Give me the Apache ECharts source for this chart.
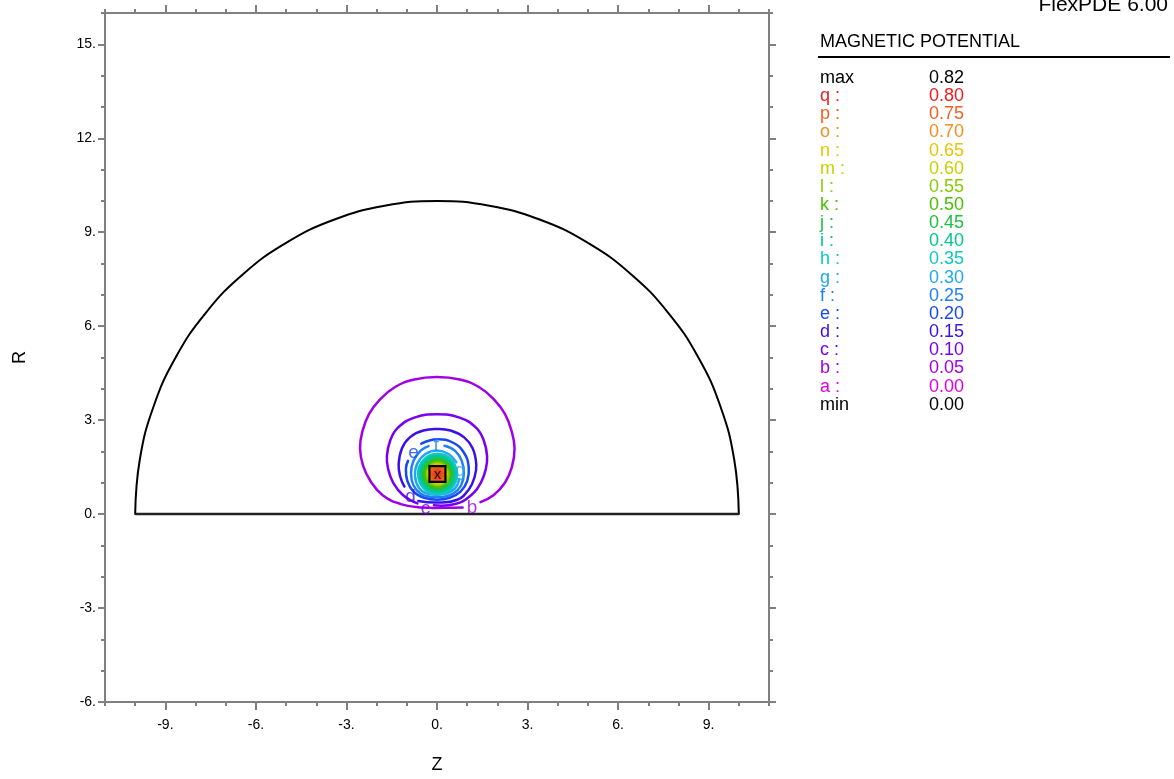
<!DOCTYPE html>
<html>
<head>
<meta charset="utf-8">
<script src="https://cdn.jsdelivr.net/npm/echarts@6/dist/echarts.min.js"></script>
<style>html,body{margin:0;padding:0;background:#fff}#c{width:1174px;height:779px}</style>
</head>
<body>
<div id="c"></div>
<script>
// ---- tick labels ----
const zTicks = [-9, -6, -3, 0, 3, 6, 9];
const rTicks = [-6, -3, 0, 3, 6, 9, 12, 15];

// ---- legend (contour levels) ----
const levelNames  = ['max','q :','p :','o :','n :','m :','l :','k :','j :','i :','h :','g :','f :','e :','d :','c :','b :','a :','min'];
const levelValues = ['0.82','0.80','0.75','0.70','0.65','0.60','0.55','0.50','0.45','0.40','0.35','0.30','0.25','0.20','0.15','0.10','0.05','0.00','0.00'];
const levelColors = ['#000000','#ee1c1c','#f06020','#f0901c','#e8c400','#c8d000','#88cc00','#48c000','#20c040','#00c888','#10c8c0','#20a8f0','#2080f0','#1848f0','#3a10e8','#7800f0','#a000e8','#e000e0','#000000'];

// ---- domain boundary (semicircle radius 10 on the axis R=0) ----
const boundaryArc = [[10,0],[9.848,1.736],[9.397,3.420],[8.660,5.000],[7.660,6.428],[6.428,7.660],[5.000,8.660],[3.420,9.397],[1.736,9.848],[0,10],
  [-1.736,9.848],[-3.420,9.397],[-5.000,8.660],[-6.428,7.660],[-7.660,6.428],[-8.660,5.000],[-9.397,3.420],[-9.848,1.736],[-10,0]];
const boundaryBase = [[-10,0],[10,0]];

// ---- contour lines ([Z, R]) ----
const contourB = [[0.85,0.21],[0.3,0.2],[-0.5,0.21],[-1.2,0.32],[-1.8,0.6],[-2.2,1.05],[-2.45,1.55],[-2.55,2.1],[-2.47,2.65],[-2.25,3.2],[-1.9,3.65],[-1.4,4.05],[-0.75,4.3],[0,4.38],[0.75,4.3],[1.4,4.05],[1.9,3.65],[2.25,3.2],[2.47,2.65],[2.57,2.1],[2.48,1.5],[2.25,1.0],[1.87,0.6],[1.44,0.38]];
const contourC = [[-0.1,0.28],[0.6,0.32],[1.1,0.58],[1.45,1.0],[1.62,1.45],[1.66,1.85],[1.55,2.35],[1.3,2.75],[0.75,3.08],[0,3.19],[-0.75,3.08],[-1.3,2.75],[-1.55,2.35],[-1.66,1.85],[-1.62,1.45],[-1.45,1.0],[-1.12,0.6],[-0.65,0.34]];
const contourD = [[-0.62,0.42],[0,0.37],[0.65,0.45],[1.05,0.78],[1.25,1.2],[1.3,1.6],[1.18,2.1],[0.9,2.45],[0.45,2.67],[0,2.72],[-0.45,2.67],[-0.9,2.45],[-1.16,2.1],[-1.27,1.6],[-1.22,1.2],[-1.08,0.88]];
const contourE = [[-0.52,2.25],[0,2.39],[0.55,2.27],[0.9,1.95],[1.05,1.5],[1.0,1.05],[0.78,0.72],[0.42,0.52],[0,0.46],[-0.42,0.52],[-0.78,0.72],[-0.98,1.05],[-1.03,1.45],[-0.96,1.7]];
const contourF = [[0.25,2.18],[0.6,2.02],[0.82,1.7],[0.89,1.3],[0.8,0.92],[0.55,0.66],[0.2,0.55],[-0.2,0.55],[-0.55,0.66],[-0.78,0.92],[-0.86,1.3],[-0.78,1.7],[-0.55,2.02],[-0.28,2.17]];
const contourG = [[0.74,1.12],[0.6,0.82],[0.32,0.66],[0,0.62],[-0.35,0.66],[-0.6,0.84],[-0.73,1.22],[-0.65,1.62],[-0.38,1.92],[0,2.03],[0.38,1.92],[0.64,1.66]];
const contourH = [[0.67,1.28],[0.48,1.74],[0.02,1.93],[-0.44,1.74],[-0.63,1.28],[-0.44,0.82],[0.02,0.63],[0.48,0.82],[0.67,1.28],[0.48,1.74]];
const contourI = [[0.58,1.28],[0.42,1.68],[0.02,1.84],[-0.38,1.68],[-0.54,1.28],[-0.38,0.88],[0.02,0.72],[0.42,0.88],[0.58,1.28],[0.42,1.68]];
const contourJ = [[0.50,1.28],[0.36,1.62],[0.02,1.76],[-0.32,1.62],[-0.46,1.28],[-0.32,0.94],[0.02,0.80],[0.36,0.94],[0.50,1.28],[0.36,1.62]];
const contourK = [[0.435,1.28],[0.31,1.57],[0.02,1.695],[-0.27,1.57],[-0.395,1.28],[-0.27,0.99],[0.02,0.865],[0.31,0.99],[0.435,1.28],[0.31,1.57]];
const contourL = [[0.38,1.28],[0.27,1.53],[0.02,1.64],[-0.23,1.53],[-0.34,1.28],[-0.23,1.03],[0.02,0.92],[0.27,1.03],[0.38,1.28],[0.27,1.53]];
const contourM = [[0.33,1.28],[0.24,1.5],[0.02,1.59],[-0.2,1.5],[-0.29,1.28],[-0.2,1.06],[0.02,0.97],[0.24,1.06],[0.33,1.28],[0.24,1.5]];
const contourN = [[0.29,1.28],[0.21,1.47],[0.02,1.55],[-0.17,1.47],[-0.25,1.28],[-0.17,1.09],[0.02,1.01],[0.21,1.09],[0.29,1.28],[0.21,1.47]];

// ---- contour labels [Z, R, letter, colour index in legend] ----
const contourLabels = [[1.16,0.19,'b',16],[-0.38,0.16,'c',15],[-0.88,0.54,'d',14],[-0.78,1.96,'e',13],[-0.03,2.18,'f',12],[0.77,1.38,'g',11],[0.36,1.06,'l',6]];

// ---- coil (source region) [zMin, rMin, zMax, rMax] and maximum marker ----
const coilBox = [[-0.25,1.03,0.28,1.53]];
const maxMark = [[0.02,1.26]];

const GRAY = '#808080';
const FONT = '"Liberation Sans", Arial, sans-serif';

const chart = echarts.init(document.getElementById('c'), null, {renderer:'canvas'});

// smooth curve through the data points, positioned with the chart's own axes
function contourLine(data, color, width, z) {
  return {type:'custom', xAxisIndex:0, yAxisIndex:0, z: z, silent:true, animation:false,
    data: [data[0]],
    renderItem: (params, api) => ({type:'polyline',
      shape:{points: data.map(p => api.coord(p)), smooth: 0.45},
      style:{stroke: color, lineWidth: width, fill: null, lineJoin:'round', lineCap:'round'}})};
}
const colorOf = k => levelColors[levelNames.indexOf(k + ' :')];

const series = [
  // filled core
  {type:'custom', xAxisIndex:0, yAxisIndex:0, z:3, silent:true, animation:false,
   data:[[0.02,1.28]],
   renderItem:(params, api) => {
     const pts = contourH.slice(0, 8).map(p => api.coord(p));
     return {type:'polygon', shape:{points: pts, smooth: 0.45},
       style:{fill:{type:'radial', x:0.5, y:0.5, r:0.5, colorStops:[
         {offset:0, color:'#a8d800'},{offset:0.45, color:'#60cc20'},{offset:0.7, color:'#30c850'},{offset:0.88, color:'#10c8b0'},{offset:1, color:'#20b0e8'}]}}};
   }},
  contourLine(boundaryArc, '#000', 2, 2),
  {type:'line', data: boundaryBase, symbol:'none', lineStyle:{color:'#222', width:2.5}, z:2, silent:true, animation:false},
  contourLine(contourB, colorOf('b'), 2.5, 4),
  contourLine(contourC, colorOf('c'), 2.5, 4),
  contourLine(contourD, colorOf('d'), 2.5, 4),
  contourLine(contourE, colorOf('e'), 2.5, 4),
  contourLine(contourF, colorOf('f'), 2.5, 4),
  contourLine(contourG, colorOf('g'), 2.5, 4),
  contourLine(contourH, colorOf('h'), 2.3, 5),
  contourLine(contourI, colorOf('i'), 2.3, 5),
  contourLine(contourJ, colorOf('j'), 2.3, 5),
  contourLine(contourK, colorOf('k'), 2.3, 5),
  contourLine(contourL, colorOf('l'), 2.3, 5),
  contourLine(contourM, colorOf('m'), 2.3, 5),
  contourLine(contourN, colorOf('n'), 2.3, 5),
  // coil box
  {type:'custom', xAxisIndex:0, yAxisIndex:0, z:8, silent:true, animation:false,
   data: coilBox,
   renderItem:(params, api) => {
     const p0 = api.coord([api.value(0), api.value(1)]);
     const p1 = api.coord([api.value(2), api.value(3)]);
     return {type:'rect', shape:{x:p0[0], y:p1[1], width:p1[0]-p0[0], height:p0[1]-p1[1]},
       style:{fill:{type:'radial', x:0.5, y:0.5, r:0.6, colorStops:[{offset:0,color:'#e02818'},{offset:1,color:'#f08020'}]},
              stroke:'#000', lineWidth:2.2}};
   }},
  // max marker
  {type:'scatter', data: maxMark, symbolSize:0, z:9, silent:true, animation:false,
   label:{show:true, position:'inside', formatter:'x', color:'#000', fontSize:15, fontFamily: FONT}},
  // contour letters
  {type:'scatter', symbolSize:0, z:9, silent:true, animation:false,
   data: contourLabels.map(l => ({value:[l[0], l[1]],
     label:{show:true, position:'inside', formatter:l[2], color:levelColors[l[3]], fontSize: l[2] === 'l' ? 12 : 19, fontFamily: FONT}}))}
];

const tickLab = {fontSize:14, color:'#000', fontFamily: FONT, formatter: v => v + '.'};
const lineOff = {show:true, onZero:false, lineStyle:{color:GRAY, width:2}};

const option = {
  backgroundColor:'#fff',
  animation:false,
  textStyle:{fontFamily: FONT},
  grid:{left:105, right:405, top:13, bottom:70, containLabel:false},
  xAxis:[
    {type:'value', position:'bottom', min:-11, max:11,
     axisLine: lineOff,
     axisTick:{show:true, customValues: zTicks, length:8, lineStyle:{color:GRAY, width:2}},
     axisLabel:Object.assign({show:true, customValues: zTicks, margin:16}, tickLab),
     splitLine:{show:false},
     name:'Z', nameLocation:'middle', nameGap:54, nameTextStyle:{fontSize:18, color:'#000', fontFamily: FONT}},
    {type:'value', position:'bottom', min:-11, max:11, interval:1,
     axisLine:{show:false, onZero:false}, axisTick:{show:true, length:4, lineStyle:{color:GRAY, width:2}},
     axisLabel:{show:false}, splitLine:{show:false}},
    {type:'value', position:'top', min:-11, max:11,
     axisLine: lineOff,
     axisTick:{show:true, customValues: zTicks, length:8, lineStyle:{color:GRAY, width:2}},
     axisLabel:{show:false}, splitLine:{show:false}},
    {type:'value', position:'top', min:-11, max:11, interval:1,
     axisLine:{show:false, onZero:false}, axisTick:{show:true, length:4, lineStyle:{color:GRAY, width:2}},
     axisLabel:{show:false}, splitLine:{show:false}}
  ],
  yAxis:[
    {type:'value', position:'left', min:-6, max:16,
     axisLine: lineOff,
     axisTick:{show:true, customValues: rTicks, length:7, lineStyle:{color:GRAY, width:2}},
     axisLabel:Object.assign({show:true, customValues: rTicks, margin:9, padding:[5,0,0,0]}, tickLab),
     splitLine:{show:false},
     name:'R', nameLocation:'middle', nameGap:76, nameTextStyle:{fontSize:18, color:'#000', fontFamily: FONT}},
    {type:'value', position:'left', min:-6, max:16, interval:1,
     axisLine:{show:false, onZero:false}, axisTick:{show:true, length:4, lineStyle:{color:GRAY, width:2}},
     axisLabel:{show:false}, splitLine:{show:false}},
    {type:'value', position:'right', min:-6, max:16,
     axisLine: lineOff,
     axisTick:{show:true, customValues: rTicks, length:7, lineStyle:{color:GRAY, width:2}},
     axisLabel:{show:false}, splitLine:{show:false}},
    {type:'value', position:'right', min:-6, max:16, interval:1,
     axisLine:{show:false, onZero:false}, axisTick:{show:true, length:4, lineStyle:{color:GRAY, width:2}},
     axisLabel:{show:false}, splitLine:{show:false}}
  ],
  series: series,
  graphic: (function () {
    const g = [
      {type:'text', x:1168, y:5, style:{text:'FlexPDE 6.00', fill:'#000', font:'21px ' + FONT, textAlign:'right', textVerticalAlign:'middle'}},
      {type:'text', x:820, y:42, style:{text:'MAGNETIC POTENTIAL', fill:'#000', font:'18px ' + FONT, textAlign:'left', textVerticalAlign:'middle'}},
      {type:'line', shape:{x1:818, y1:57, x2:1170, y2:57}, style:{stroke:'#000', lineWidth:2}}
    ];
    levelNames.forEach((n, i) => {
      const y = 78 + i * 18.15;
      g.push({type:'text', x:820, y:y, style:{text:n, fill:levelColors[i], font:'18px ' + FONT, textAlign:'left', textVerticalAlign:'middle'}});
      g.push({type:'text', x:929, y:y, style:{text:levelValues[i], fill:levelColors[i], font:'18px ' + FONT, textAlign:'left', textVerticalAlign:'middle'}});
    });
    return g;
  })()
};
chart.setOption(option);
</script>
</body>
</html>
